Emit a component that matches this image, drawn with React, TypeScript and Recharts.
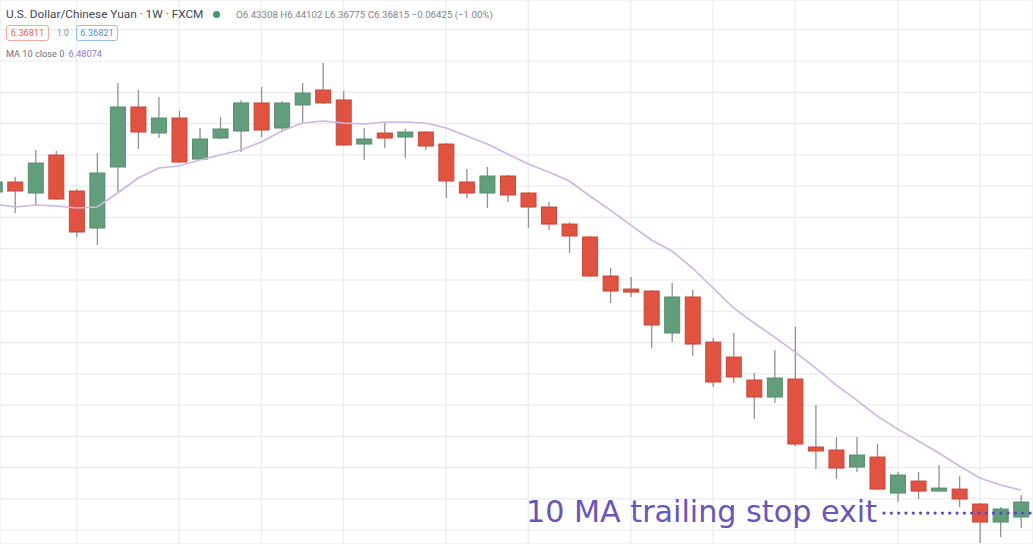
import React from 'react';
import {
  ComposedChart,
  Bar,
  Line,
  XAxis,
  YAxis,
  CartesianGrid,
  ReferenceLine,
} from 'recharts';

// Weekly USD/CNH candles (week index), with a 10-period moving average of the close.
const weeks = [
  0, 1, 2, 3, 4, 5, 6, 7, 8, 9, 10, 11, 12, 13, 14, 15, 16, 17, 18, 19, 20, 21, 22, 23, 24, 25,
  26, 27, 28, 29, 30, 31, 32, 33, 34, 35, 36, 37, 38, 39, 40, 41, 42, 43, 44, 45, 46, 47, 48, 49, 50,
];

const opens = [
  6.9406, 6.9566, 6.939, 6.9997, 6.9422, 6.883, 6.9806, 7.0765, 7.0349, 7.0589, 6.9933, 7.0269,
  7.0381, 7.0829, 7.0429, 7.0797, 7.1036, 7.0877, 7.0173, 7.0349, 7.0285, 7.0365, 7.0173, 6.9566,
  6.939, 6.9662, 6.939, 6.9166, 6.8894, 6.8687, 6.8063, 6.7855, 6.7823, 6.7152, 6.7728, 6.7008,
  6.6768, 6.6401, 6.6129, 6.6417, 6.533, 6.5282, 6.501, 6.517, 6.4594, 6.4786, 6.4626, 6.4658,
  6.4419, 6.4131, 6.4211,
];

const highs = [
  6.9662, 6.9646, 7.0077, 7.0061, 6.9454, 7.0029, 7.1148, 7.1036, 7.0925, 7.0701, 7.0429, 7.0605,
  7.0877, 7.1084, 7.0861, 7.1148, 7.1468, 7.102, 7.0429, 7.0509, 7.0413, 7.0381, 7.0189, 6.9774,
  6.9806, 6.9678, 6.9406, 6.9246, 6.8926, 6.8703, 6.8191, 6.8047, 6.7839, 6.7951, 6.7839, 6.7072,
  6.7152, 6.6513, 6.688, 6.7248, 6.6001, 6.549, 6.549, 6.5378, 6.493, 6.493, 6.5042, 6.4866,
  6.4435, 6.4371, 6.4562,
];

const lows = [
  6.9326, 6.907, 6.9198, 6.9278, 6.8687, 6.8559, 6.9406, 7.0093, 7.0269, 6.9869, 6.9917, 7.0253,
  7.0045, 7.0285, 7.0365, 7.0525, 7.0813, 7.0141, 6.9917, 7.0109, 6.9949, 7.0077, 6.931, 6.931,
  6.915, 6.9246, 6.883, 6.8798, 6.8431, 6.8047, 6.7632, 6.7728, 6.6912, 6.7008, 6.6784, 6.6289,
  6.6353, 6.5777, 6.6033, 6.5346, 6.4978, 6.4818, 6.493, 6.4642, 6.4451, 6.4499, 6.461, 6.4371,
  6.3795, 6.3891, 6.4035,
];

const closes = [
  6.9566, 6.9422, 6.9869, 6.9294, 6.8767, 6.971, 7.0765, 7.0365, 7.0589, 6.9885, 7.0253, 7.0413,
  7.0829, 7.0397, 7.0829, 7.0988, 7.0829, 7.0157, 7.0253, 7.0269, 7.0365, 7.0141, 6.9582, 6.939,
  6.9662, 6.9358, 6.9166, 6.8894, 6.8703, 6.8063, 6.7823, 6.7807, 6.728, 6.7728, 6.6976, 6.6369,
  6.6449, 6.6129, 6.6433, 6.5378, 6.5266, 6.4994, 6.5202, 6.4658, 6.4882, 6.4626, 6.4674, 6.4499,
  6.4131, 6.4339, 6.4451,
];

const ma10 = [
  6.9214, 6.9166, 6.9198, 6.9182, 6.915, 6.9166, 6.939, 6.963, 6.979, 6.9822, 6.9917, 6.9997,
  7.0077, 7.0205, 7.0381, 7.0509, 7.0541, 7.0509, 7.0493, 7.0525, 7.0525, 7.0509, 7.0429, 7.0301,
  7.0173, 7.0013, 6.9853, 6.9726, 6.9582, 6.9342, 6.9118, 6.8878, 6.8639, 6.8463, 6.8191, 6.7871,
  6.7552, 6.7312, 6.7088, 6.6848, 6.6593, 6.6321, 6.6081, 6.5825, 6.5617, 6.5426, 6.5234, 6.5026,
  6.4834, 6.4722, 6.4642,
];

// Weeks on which a new month begins (vertical grid lines).
const monthStartWeeks = [4, 9, 13, 17, 22, 26, 31, 35, 39, 44, 48];

// Price grid every 0.05.
const priceTicks = [
  6.4, 6.45, 6.5, 6.55, 6.6, 6.65, 6.7, 6.75, 6.8, 6.85, 6.9, 6.95, 7.0, 7.05, 7.1, 7.15, 7.2,
];

// Trailing-stop exit marker: level and the week it starts from.
const exitLevel = 6.4275;
const exitFromWeek = 43.33;
const exitToWeek = 50.58;

const W = 1033;
const H = 544;
const X_DOMAIN: [number, number] = [0.269, 50.586];
const Y_DOMAIN: [number, number] = [6.378, 7.2475];

const RED = '#df5340';
const RED_EDGE = '#c9463a';
const GREEN = '#629d7c';
const GREEN_EDGE = '#558e6e';
const WICK = '#929292';

const rows = weeks.map((w, i) => ({
  week: w,
  range: [lows[i], highs[i]],
  open: opens[i],
  close: closes[i],
  ma: ma10[i],
}));

function Candle(props: any) {
  const { x, y, width, height, payload } = props;
  if (x == null || y == null || !payload) return null;
  const [lo, hi] = payload.range;
  const top = Math.min(y, y + height);
  const h = Math.abs(height);
  const k = hi === lo ? 0 : h / (hi - lo);
  const yOpen = top + (hi - payload.open) * k;
  const yClose = top + (hi - payload.close) * k;
  const up = payload.close >= payload.open;
  const cx = x + width / 2;
  const bodyTop = Math.min(yOpen, yClose);
  const bodyH = Math.max(Math.abs(yOpen - yClose), 2);
  return (
    <g>
      <line x1={cx} x2={cx} y1={top} y2={top + h} stroke={WICK} strokeWidth={1.3} />
      <rect
        x={x}
        y={bodyTop}
        width={width}
        height={bodyH}
        fill={up ? GREEN : RED}
        stroke={up ? GREEN_EDGE : RED_EDGE}
        strokeWidth={1}
      />
    </g>
  );
}

const headerFont = 'Roboto, "Noto Sans", sans-serif';

export default function App() {
  return (
    <div
      style={{
        position: 'absolute',
        left: 0,
        top: 0,
        width: W,
        height: H,
        background: '#ffffff',
        overflow: 'hidden',
      }}
    >
      <ComposedChart width={W} height={H} data={rows} margin={{ top: 0, right: 0, bottom: 0, left: 0 }}>
        <CartesianGrid stroke="#eaecf0" strokeWidth={1.2} />
        <XAxis
          dataKey="week"
          type="number"
          domain={X_DOMAIN}
          allowDataOverflow
          ticks={monthStartWeeks}
          hide
        />
        <YAxis type="number" domain={Y_DOMAIN} allowDataOverflow ticks={priceTicks} hide />
        <Line
          dataKey="ma"
          type="linear"
          stroke="#cbb7e3"
          strokeWidth={1.6}
          dot={false}
          activeDot={false}
          isAnimationActive={false}
        />
        <Bar dataKey="range" barSize={15} shape={<Candle />} isAnimationActive={false} />
        <ReferenceLine
          segment={[
            { x: exitFromWeek, y: exitLevel },
            { x: exitToWeek, y: exitLevel },
          ]}
          stroke="#5a47bf"
          strokeWidth={3.2}
          strokeDasharray="0 7.3"
          strokeLinecap="round"
          ifOverflow="visible"
        />
      </ComposedChart>

      {/* Symbol header */}
      <div
        style={{
          position: 'absolute',
          left: 6,
          top: 6,
          fontFamily: headerFont,
          fontSize: 11.8,
          color: '#44474f',
          whiteSpace: 'nowrap',
          lineHeight: '16px',
        }}
      >
        U.S. Dollar/Chinese Yuan · 1W · FXCM
      </div>
      <div
        style={{
          position: 'absolute',
          left: 213,
          top: 11,
          width: 7,
          height: 7,
          borderRadius: 4,
          background: '#3d9a6c',
        }}
      />
      <div
        style={{
          position: 'absolute',
          left: 236,
          top: 8,
          fontFamily: headerFont,
          fontSize: 9.7,
          color: '#80838c',
          whiteSpace: 'nowrap',
          lineHeight: '13px',
        }}
      >
        O6.43308 H6.44102 L6.36775 C6.36815 −0.06425 (−1.00%)
      </div>

      {/* Bid / spread / ask */}
      <div
        style={{
          position: 'absolute',
          left: 6,
          top: 25,
          width: 41,
          height: 14,
          border: '1px solid #f0aaa0',
          borderRadius: 3,
          fontFamily: headerFont,
          fontSize: 9.2,
          color: '#e06a5b',
          lineHeight: '14px',
          textAlign: 'center',
        }}
      >
        6.36811
      </div>
      <div
        style={{
          position: 'absolute',
          left: 57,
          top: 26,
          fontFamily: headerFont,
          fontSize: 8.6,
          color: '#8a8d96',
          lineHeight: '14px',
        }}
      >
        1.0
      </div>
      <div
        style={{
          position: 'absolute',
          left: 76,
          top: 25,
          width: 40,
          height: 14,
          border: '1px solid #8fc2ef',
          borderRadius: 3,
          fontFamily: headerFont,
          fontSize: 9.2,
          color: '#4b94de',
          lineHeight: '14px',
          textAlign: 'center',
        }}
      >
        6.36821
      </div>

      {/* Indicator legend */}
      <div
        style={{
          position: 'absolute',
          left: 6,
          top: 47,
          fontFamily: headerFont,
          fontSize: 9.2,
          color: '#70737c',
          whiteSpace: 'nowrap',
          lineHeight: '14px',
        }}
      >
        MA 10 close 0 <span style={{ color: '#9a73d2', marginLeft: 2 }}>6.48074</span>
      </div>

      {/* Annotation */}
      <div
        style={{
          position: 'absolute',
          left: 526,
          top: 497,
          fontFamily: '"DejaVu Sans", Verdana, sans-serif',
          fontSize: 30.2,
          lineHeight: '30px',
          color: '#6a56b8',
          whiteSpace: 'nowrap',
        }}
      >
        10 MA trailing stop exit
      </div>
    </div>
  );
}
